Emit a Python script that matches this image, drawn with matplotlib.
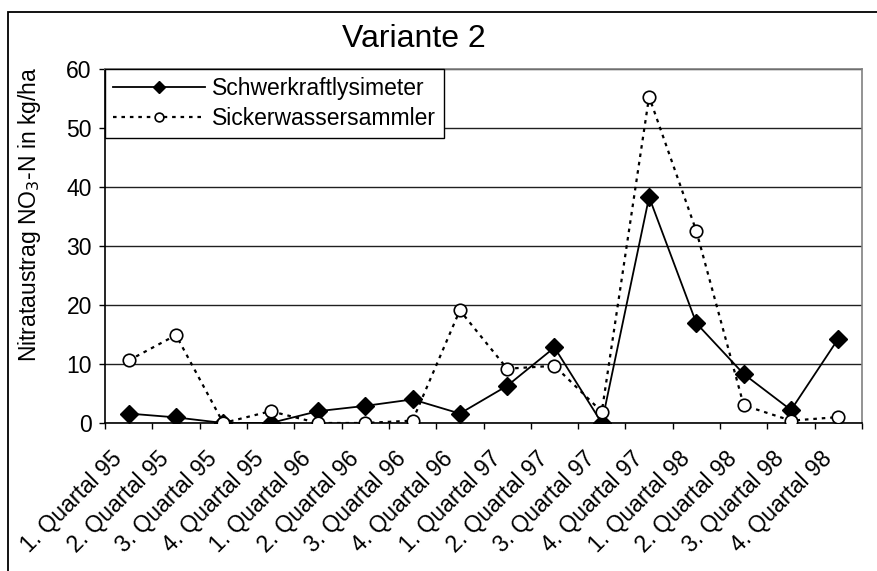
import matplotlib
matplotlib.use("Agg")
import matplotlib.pyplot as plt
import matplotlib.transforms as mtrans
from matplotlib.patches import Rectangle
import numpy as np

plt.rcParams["font.family"] = ["Liberation Sans", "DejaVu Sans"]

quarters = ["1. Quartal 95", "2. Quartal 95", "3. Quartal 95", "4. Quartal 95",
            "1. Quartal 96", "2. Quartal 96", "3. Quartal 96", "4. Quartal 96",
            "1. Quartal 97", "2. Quartal 97", "3. Quartal 97", "4. Quartal 97",
            "1. Quartal 98", "2. Quartal 98", "3. Quartal 98", "4. Quartal 98"]
schwerkraft = [1.6, 0.95, 0.0, 0.0, 2.0, 2.9, 4.0, 1.6,
               6.3, 12.8, 0.0, 38.3, 16.9, 8.3, 2.2, 14.3]
sicker = [10.6, 14.9, 0.0, 2.0, 0.0, 0.0, 0.4, 19.1,
          9.2, 9.7, 1.9, 55.3, 32.5, 3.0, 0.4, 1.0]
yticks = [0, 10, 20, 30, 40, 50, 60]

W, H = 877, 571
FS = 16.5
fig = plt.figure(figsize=(W / 100, H / 100), dpi=100)
fig.patch.set_facecolor("white")

# outer chart frame (runs off the right and bottom edge)
fig.patches.append(Rectangle((8 / W, -0.1), 1.2, (H - 12) / H + 0.1,
                             transform=fig.transFigure, fill=False,
                             edgecolor="black", linewidth=1.3))

ax = fig.add_axes([105 / W, (H - 423) / H, (862 - 105) / W, (423 - 69) / H])
x = np.arange(len(quarters))

ax.plot(x, schwerkraft, color="black", linewidth=1.3, marker="D",
        markersize=9.2, markerfacecolor="black", markeredgecolor="black",
        label="Schwerkraftlysimeter", zorder=3)
ax.plot(x, sicker, color="black", linewidth=1.6, linestyle=(0, (1.6, 2.2)),
        marker="o", markersize=9, markerfacecolor="white",
        markeredgecolor="black", markeredgewidth=1.2,
        label="Sickerwassersammler", zorder=4)

ax.set_xlim(-0.5, len(quarters) - 0.5)
ax.set_ylim(0, 60)
ax.set_yticks(yticks)
ax.set_yticklabels([str(v) for v in yticks], fontsize=FS)
ax.yaxis.grid(True, color="#202020", linewidth=1.0)
ax.set_axisbelow(True)

ax.set_xticks(x)
ax.set_xticklabels(quarters, fontsize=FS, rotation=45,
                   ha="right", va="center", rotation_mode="anchor")
ax.set_xticks(np.arange(len(quarters) + 1) - 0.5, minor=True)
ax.tick_params(axis="x", which="major", length=0, pad=23)
ax.tick_params(axis="x", which="minor", length=4.5, direction="out",
               width=1.0)
ax.tick_params(axis="y", length=4.5, direction="out", width=1.0, pad=5)
shift = mtrans.ScaledTranslation(-10 / 100, 0, fig.dpi_scale_trans)
for lab in ax.get_xticklabels():
    lab.set_transform(lab.get_transform() + shift)

for side in ("left", "bottom"):
    ax.spines[side].set_color("black")
    ax.spines[side].set_linewidth(1.2)
for side in ("top", "right"):
    ax.spines[side].set_color("#808080")
    ax.spines[side].set_linewidth(1.2)

ax.set_ylabel("Nitrataustrag NO$_3$-N in kg/ha", fontsize=FS)
ax.yaxis.set_label_coords(43 / W, (H - 214) / H, transform=fig.transFigure)

leg = ax.legend(loc="upper left", bbox_to_anchor=(0, 1), fontsize=FS,
                handlelength=4.0, handletextpad=0.3, borderpad=0.35,
                labelspacing=0.3, borderaxespad=0, markerscale=0.7,
                frameon=True, fancybox=False, framealpha=1)
leg.get_frame().set_edgecolor("black")
leg.get_frame().set_linewidth(1.0)

fig.text(414 / W, (H - 47) / H, "Variante 2", fontsize=23,
         ha="center", va="baseline")

fig.savefig("out.png", dpi=100, facecolor="white")
